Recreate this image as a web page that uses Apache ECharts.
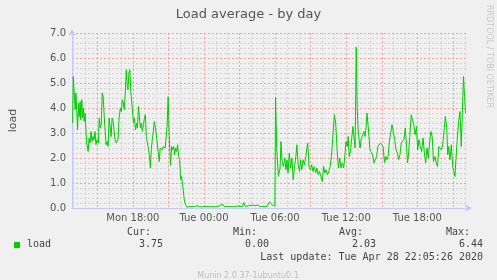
<!DOCTYPE html>
<html><head><meta charset="utf-8">
<script src="https://cdn.jsdelivr.net/npm/echarts@6/dist/echarts.min.js"></script>
<style>html,body{margin:0;padding:0;background:#f0f0f0}#c{width:497px;height:280px}</style>
</head><body><div id="c"></div>
<script>
// time in hours since Mon 00:00
const hours = [
12.92,12.98,13.11,13.14,13.20,13.28,13.34,13.42,13.48,13.56,13.61,13.70,13.75,13.84,13.89,13.98,
14.09,14.17,14.23,14.31,14.39,14.48,14.56,14.64,14.73,14.81,14.89,14.98,15.09,15.17,15.25,15.34,
15.42,15.50,15.59,15.67,15.75,15.84,15.92,16.00,16.09,16.17,16.25,16.34,16.42,16.50,16.59,16.67,
16.75,16.84,16.95,17.03,17.11,17.20,17.28,17.36,17.45,17.53,17.59,17.67,17.75,17.84,17.92,17.98,
18.06,18.14,18.23,18.31,18.39,18.48,18.56,18.64,18.73,18.81,18.89,18.98,19.06,19.14,19.23,19.31,
19.39,19.48,19.56,19.64,19.73,19.81,19.89,19.98,20.06,20.14,20.23,20.31,20.39,20.48,20.56,20.64,
20.73,20.81,20.89,20.98,21.07,21.18,21.28,21.36,21.45,21.53,21.61,21.70,21.78,21.86,21.95,22.03,
22.11,22.20,22.25,22.34,22.45,22.56,22.70,22.92,23.20,23.42,23.53,23.64,23.75,23.89,24.17,24.45,
24.73,25.00,25.28,25.42,25.56,25.70,25.98,26.25,26.53,26.81,26.95,27.23,27.36,27.48,27.64,27.78,
27.92,28.14,28.34,28.53,28.75,29.03,29.31,29.45,29.53,29.64,29.81,29.98,30.04,30.14,30.28,30.42,
30.50,30.59,30.70,30.81,30.92,31.00,31.09,31.20,31.31,31.42,31.53,31.64,31.75,31.84,31.95,32.06,
32.14,32.25,32.36,32.48,32.59,32.67,32.75,32.86,32.98,33.09,33.20,33.31,33.42,33.53,33.64,33.75,
33.86,33.98,34.09,34.20,34.31,34.42,34.53,34.64,34.75,34.86,35.00,35.11,35.23,35.34,35.45,35.56,
35.67,35.78,35.89,35.98,36.09,36.17,36.25,36.36,36.45,36.56,36.67,36.75,36.84,36.92,37.00,37.09,
37.17,37.25,37.34,37.42,37.50,37.59,37.67,37.75,37.83,37.92,38.00,38.11,38.23,38.34,38.45,38.56,
38.67,38.78,38.89,39.00,39.11,39.23,39.34,39.42,39.53,39.64,39.75,39.86,39.98,40.09,40.20,40.31,
40.42,40.53,40.64,40.75,40.86,40.98,41.09,41.17,41.25,41.36,41.48,41.59,41.70,41.81,41.92,42.03,
42.14,42.25,42.36,42.48,42.59,42.70,42.81,42.92,43.03,43.14,43.25,43.36,43.48,43.59,43.70,43.81,
43.92,44.03,44.14,44.25,44.36,44.48,44.56,44.64,44.75,44.86,44.98,45.09,45.17,45.25,45.36,45.48,
45.59,45.70,45.81,45.89,45.98,46.06
];
const load = [
3.40,5.26,5.20,3.93,4.60,3.80,3.13,4.20,3.66,4.26,3.53,4.33,3.60,4.00,3.46,3.80,
2.66,2.73,2.26,2.80,2.60,3.06,2.66,2.86,2.73,3.06,2.53,2.73,2.60,3.60,3.20,3.33,
4.60,4.46,3.66,3.06,2.53,2.66,2.46,3.60,3.53,2.86,3.60,3.46,3.53,2.73,2.60,2.53,
2.73,3.60,4.00,3.86,4.33,4.20,3.93,4.60,5.53,4.86,4.73,5.40,5.53,4.60,4.20,3.80,
3.40,3.60,3.13,3.40,3.20,4.06,3.60,3.20,3.40,3.06,3.33,3.60,3.73,2.86,2.80,2.40,
2.13,1.60,2.33,2.73,3.06,3.46,3.26,2.93,2.86,2.86,1.86,2.40,2.33,2.33,2.46,2.40,
2.40,2.33,3.26,4.45,2.90,1.70,2.46,2.33,2.46,2.13,2.40,2.26,2.53,2.06,1.93,1.13,
1.26,1.33,0.73,0.33,0.13,0.04,0.05,0.06,0.05,0.09,0.10,0.05,0.09,0.05,0.06,0.05,
0.06,0.05,0.08,0.05,0.16,0.06,0.05,0.06,0.05,0.08,0.05,0.06,0.22,0.06,0.12,0.09,
0.05,0.12,0.09,0.12,0.05,0.06,0.05,0.06,0.25,0.17,0.10,0.09,4.44,2.33,1.26,1.60,
2.66,1.86,1.66,2.00,1.53,1.93,1.40,2.20,1.60,2.00,1.13,1.66,2.06,2.53,1.73,1.46,
1.93,1.53,1.93,1.73,2.06,2.13,2.60,1.66,1.53,1.73,1.46,1.66,1.40,1.60,1.33,1.46,
1.26,1.06,1.66,1.40,1.53,1.33,1.46,1.66,2.06,2.00,3.73,3.40,2.33,1.60,2.00,1.60,
1.80,1.60,2.13,2.66,2.46,2.86,2.06,2.26,2.73,3.26,3.20,2.40,6.44,4.06,3.13,2.73,
2.40,2.73,2.86,2.80,3.06,2.86,3.20,3.80,3.75,2.86,2.33,2.26,2.13,1.80,1.80,2.06,
2.46,2.40,2.60,2.66,2.46,1.80,2.06,1.93,2.06,2.66,2.73,3.33,3.40,2.73,2.33,2.20,
1.93,2.13,2.60,2.53,2.73,3.20,2.46,1.80,2.13,2.86,3.73,3.53,3.33,2.93,3.26,2.33,
2.73,2.46,2.26,2.80,2.20,1.80,2.40,1.99,2.60,3.06,2.86,1.86,2.06,1.80,1.66,2.46,
2.40,2.33,2.53,2.46,3.66,3.20,2.13,2.46,1.93,2.53,1.66,1.60,1.26,1.93,2.73,3.46,
3.86,2.46,2.40,5.26,4.46,3.80
];
const xMin = 12.87, xMax = 46.27;
const labelHours = [18, 24, 30, 36, 42];
const labelTexts = ['Mon 18:00', 'Tue 00:00', 'Tue 06:00', 'Tue 12:00', 'Tue 18:00'];
const majorHours = [15, 18, 21, 24, 27, 30, 33, 36, 39, 42, 45];
const minorHours = [13,14,16,17,19,20,22,23,25,26,28,29,31,32,34,35,37,38,40,41,43,44,46];
const seriesName = 'load';
const statNames = ['Cur:', 'Min:', 'Avg:', 'Max:'];
const statValues = ['3.75', '0.00', '2.03', '6.44'];
const titleText = 'Load average - by day';
const lastUpdate = 'Last update: Tue Apr 28 22:05:26 2020';
const footer = 'Munin 2.0.37-1ubuntu0.1';
const watermark = 'RRDTOOL / TOBI OETIKER';

const mono = '10px "DejaVu Sans Mono"';
const statNameRight = [151, 257, 363, 470];
const statValRight = [163, 269, 376, 483];
const graphic = [
  {type:'text', x:489, y:5, rotation:-Math.PI/2, style:{text:watermark, font:'8px "DejaVu Sans"', fill:'#c8c8c8', align:'left', verticalAlign:'middle'}},
  {type:'rect', shape:{x:14, y:242, width:6, height:6}, style:{fill:'#00cc00'}},
  {type:'text', x:27, y:244.5, style:{text:seriesName, font:mono, fill:'#444', verticalAlign:'middle'}},
  {type:'text', x:483, y:257, style:{text:lastUpdate, font:mono, fill:'#444', align:'right', verticalAlign:'middle'}},
  {type:'text', x:248, y:276, style:{text:footer, font:'8px "DejaVu Sans"', fill:'#bdbdbd', align:'center', verticalAlign:'middle'}}
];
statNames.forEach((n, i) => {
  graphic.push({type:'text', x:statNameRight[i], y:232, style:{text:n, font:mono, fill:'#444', align:'right', verticalAlign:'middle'}});
  graphic.push({type:'text', x:statValRight[i], y:244.5, style:{text:statValues[i], font:mono, fill:'#444', align:'right', verticalAlign:'middle'}});
});

const chart = echarts.init(document.getElementById('c'), null, {width:497, height:280});
chart.setOption({
  backgroundColor:'#f0f0f0',
  animation:false,
  title:{text:titleText, left:'center', top:3, textStyle:{fontFamily:'DejaVu Sans', fontSize:13, fontWeight:'normal', color:'#555'}},
  grid:{left:67, top:33, width:401, height:175, containLabel:false},
  xAxis:[
    {type:'value', min:xMin, max:xMax, position:'top', z:1,
     axisLine:{show:false}, axisTick:{show:false, customValues:minorHours}, axisLabel:{show:false},
     splitLine:{show:true, lineStyle:{color:'#d4d4d4', width:1, type:[2,2]}}},
    {type:'value', min:xMin, max:xMax, position:'bottom', z:3,
     axisLine:{show:true, lineStyle:{color:'#c8c8f8', width:1}, symbol:['none','arrow'], symbolSize:[6,7], symbolOffset:[0,4]},
     axisTick:{show:false, customValues:majorHours},
     axisLabel:{customValues:labelHours, formatter:v => labelTexts[labelHours.indexOf(v)] || '', color:'#555', fontFamily:'DejaVu Sans', fontSize:10, margin:5},
     splitLine:{show:true, lineStyle:{color:'#f0a0a0', width:1, type:[2,2]}}}
  ],
  yAxis:{type:'value', min:0, max:7, interval:1, name:'load', nameLocation:'middle', nameRotate:90, nameGap:53, z:2,
     nameTextStyle:{fontFamily:'DejaVu Sans', fontSize:11, color:'#555'},
     axisLine:{show:true, lineStyle:{color:'#c8c8f8', width:1}, symbol:['none','arrow'], symbolSize:[6,7], symbolOffset:[0,4]},
     axisTick:{show:false},
     axisLabel:{formatter:v => v.toFixed(1), color:'#555', fontFamily:'DejaVu Sans', fontSize:10, margin:6},
     splitLine:{show:true, lineStyle:{color:'#f0a0a0', width:1, type:[2,2]}},
     minorTick:{show:false, splitNumber:5},
     minorSplitLine:{show:true, lineStyle:{color:'#d4d4d4', width:1, type:[2,2]}}},
  series:[{type:'line', name:seriesName, xAxisIndex:1, data:hours.map((h, i) => [h, load[i]]),
     showSymbol:false, lineStyle:{color:'#00cc00', width:1}, z:5}],
  graphic:graphic
});
</script></body></html>
